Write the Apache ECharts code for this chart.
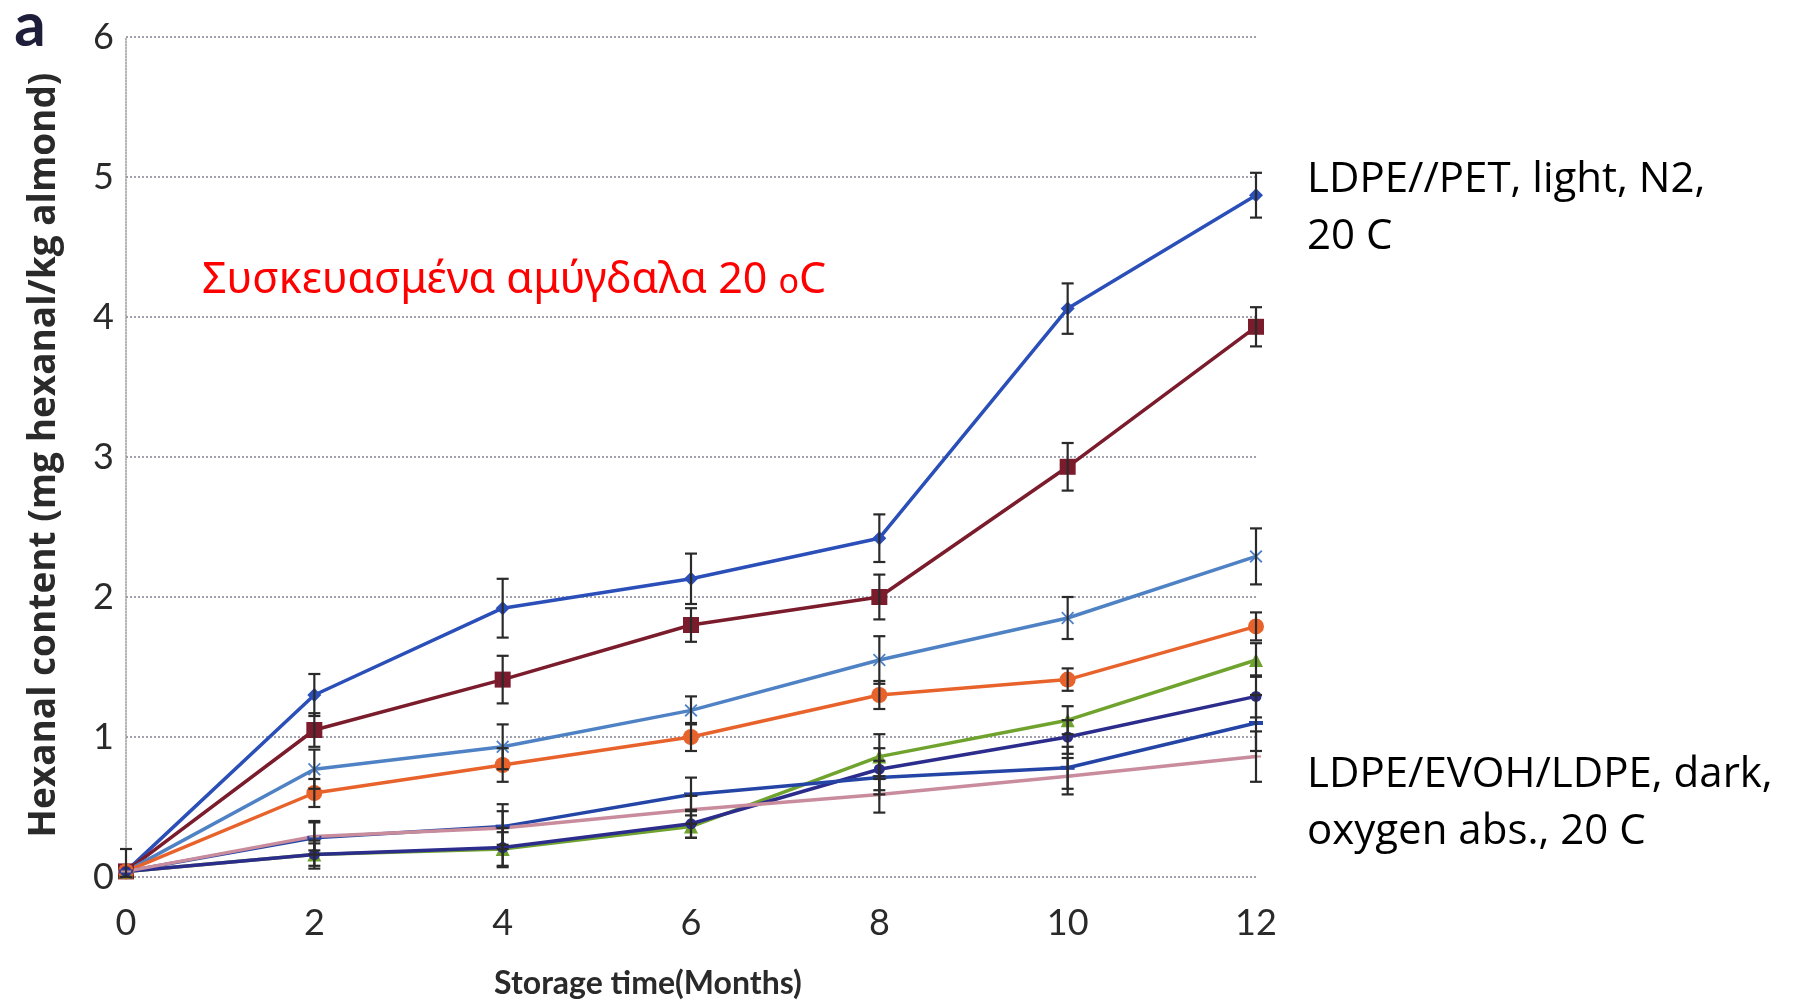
<!DOCTYPE html>
<html>
<head>
  <meta charset="utf-8" />
  <title>Hexanal content</title>
  <style>
    html, body { margin: 0; padding: 0; background: #fff; }
    #main { width: 1798px; height: 1008px; }
  </style>
</head>
<body>
  <div id="main"></div>
  <script src="https://cdn.jsdelivr.net/npm/echarts@6/dist/echarts.min.js"></script>
  <script type="text/javascript">
    // storage time, months
    var months = [0, 2, 4, 6, 8, 10, 12];
    var xTicks = ['0', '2', '4', '6', '8', '10', '12'];

    // hexanal content (mg/kg)
    var s1 = [0.04, 1.30, 1.92, 2.13, 2.42, 4.06, 4.87];
    var s2 = [0.04, 1.05, 1.41, 1.80, 2.00, 2.93, 3.93];
    var s3 = [0.04, 0.77, 0.93, 1.19, 1.55, 1.85, 2.29];
    var s4 = [0.04, 0.60, 0.80, 1.00, 1.30, 1.41, 1.79];
    var s5 = [0.04, 0.16, 0.20, 0.36, 0.86, 1.12, 1.55];
    var s6 = [0.04, 0.16, 0.21, 0.38, 0.77, 1.00, 1.29];
    var s7 = [0.04, 0.28, 0.36, 0.59, 0.71, 0.78, 1.10];
    var s8 = [0.04, 0.29, 0.35, 0.48, 0.59, 0.72, 0.86];

    // error bars (+/-)
    var e1 = [0.16, 0.15, 0.21, 0.18, 0.17, 0.18, 0.16];
    var e2 = [0, 0.12, 0.17, 0.12, 0.16, 0.17, 0.14];
    var e3 = [0, 0.14, 0.16, 0.10, 0.17, 0.15, 0.20];
    var e4 = [0, 0.10, 0.12, 0.10, 0.10, 0.08, 0.10];
    var e5 = [0, 0.08, 0.12, 0.08, 0.16, 0.10, 0.12];
    var e6 = [0, 0.10, 0.14, 0.10, 0.15, 0.12, 0.15];
    var e7 = [0, 0.12, 0.16, 0.12, 0.12, 0.15, 0.20];
    var e8 = [0, 0.10, 0.12, 0.10, 0.13, 0.13, 0.18];

    var colors = ['#2b4fb8', '#7b1c2c', '#4f82c4', '#e8632c', '#6fa32e', '#2c2c8c', '#2445a6', '#c98c9c'];
    var symbols = [
      'diamond', 'rect', 'path://M0,1L1,0L5,4L9,0L10,1L6,5L10,9L9,10L5,6L1,10L0,9L4,5Z',
      'circle', 'triangle', 'circle', 'rect',
      'path://M4,0L6,0L6,4L10,4L10,6L6,6L6,10L4,10L4,6L0,6L0,4L4,4Z'
    ];
    var sizes = [14, 16, 13, 16, 14, 11, [14, 4], 10];
    var values = [s1, s2, s3, s4, s5, s6, s7, s8];
    var errors = [e1, e2, e3, e4, e5, e6, e7, e8];

    var chart = echarts.init(document.getElementById('main'));

    var series = [];
    values.forEach(function (vals, k) {
      series.push({
        type: 'line',
        data: months.map(function (m, i) { return [m, vals[i]]; }),
        symbol: symbols[k],
        symbolSize: sizes[k],
        showAllSymbol: true,
        lineStyle: { color: colors[k], width: 3.5 },
        itemStyle: { color: colors[k] },
        z: 2
      });
    });

    var bars = [];
    errors.forEach(function (errs, k) {
      months.forEach(function (m, i) {
        if (errs[i] > 0) bars.push([m, values[k][i] - errs[i], values[k][i] + errs[i]]);
      });
    });

    series.push({
      type: 'custom',
      data: bars,
      z: 3,
      renderItem: function (params, api) {
        var x = api.value(0);
        var lo = api.coord([x, Math.max(api.value(1), 0)]);
        var hi = api.coord([x, api.value(2)]);
        var w = 6;
        var st = { stroke: '#2a2a2a', lineWidth: 2.2 };
        return {
          type: 'group',
          children: [
            { type: 'line', shape: { x1: lo[0], y1: lo[1], x2: hi[0], y2: hi[1] }, style: st },
            { type: 'line', shape: { x1: hi[0] - w, y1: hi[1], x2: hi[0] + w, y2: hi[1] }, style: st },
            { type: 'line', shape: { x1: lo[0] - w, y1: lo[1], x2: lo[0] + w, y2: lo[1] }, style: st }
          ]
        };
      }
    });

    chart.setOption({
      backgroundColor: '#fff',
      animation: false,
      grid: { left: 126, right: 542, top: 37, bottom: 131 },
      xAxis: {
        type: 'value',
        min: 0,
        max: 12,
        interval: 2,
        axisLine: { show: false },
        axisTick: { show: false },
        splitLine: { show: false },
        axisLabel: {
          margin: 28,
          fontFamily: 'Lato',
          fontSize: 36,
          color: '#2a2a2a',
          formatter: function (v) { return xTicks[months.indexOf(v)]; }
        }
      },
      yAxis: {
        type: 'value',
        min: 0,
        max: 6,
        interval: 1,
        axisLine: { show: true, lineStyle: { color: '#9a9a9a', type: 'dotted', width: 1.5 } },
        axisTick: { show: false },
        splitLine: { show: true, lineStyle: { color: '#a0a0ae', type: 'dotted', width: 2 } },
        axisLabel: {
          margin: 12,
          fontFamily: 'Lato',
          fontSize: 36,
          color: '#2a2a2a'
        }
      },
      graphic: [
        {
          type: 'text', x: 30, y: 26,
          style: { text: 'a', font: 'bold 62px Lato', fill: '#1e1e3a', align: 'center', verticalAlign: 'middle' }
        },
        {
          type: 'text', x: 44, y: 455, rotation: Math.PI / 2,
          style: {
            text: 'Hexanal content (mg hexanal/kg almond)',
            font: 'bold 37px "Open Sans"', fill: '#2a2a2a',
            align: 'center', verticalAlign: 'middle'
          }
        },
        {
          type: 'text', x: 648, y: 984,
          style: {
            text: 'Storage time(Months)',
            font: 'bold 32px Lato', fill: '#2a2a2a',
            align: 'center', verticalAlign: 'middle'
          }
        },
        {
          type: 'text', x: 202, y: 276,
          style: {
            text: '{a|Συσκευασμένα αμύγδαλα 20 }{b|o}{a|C}',
            verticalAlign: 'middle',
            fill: '#ff0000',
            rich: {
              a: { fontFamily: 'Noto Sans', fontSize: 43, fill: '#ff0000', verticalAlign: 'bottom', lineHeight: 52 },
              b: { fontFamily: 'Noto Sans', fontSize: 34, fill: '#ff0000', verticalAlign: 'bottom', lineHeight: 52, padding: [0, 0, 2, 0] }
            }
          }
        },
        {
          type: 'text', x: 1307, y: 152,
          style: {
            text: 'LDPE//PET, light, N2,\n20 C',
            font: '42px "Open Sans"', fill: '#000', lineHeight: 57
          }
        },
        {
          type: 'text', x: 1307, y: 747,
          style: {
            text: 'LDPE/EVOH/LDPE, dark,\noxygen abs., 20 C',
            font: '42px "Open Sans"', fill: '#000', lineHeight: 57
          }
        }
      ],
      series: series
    });
  </script>
</body>
</html>
